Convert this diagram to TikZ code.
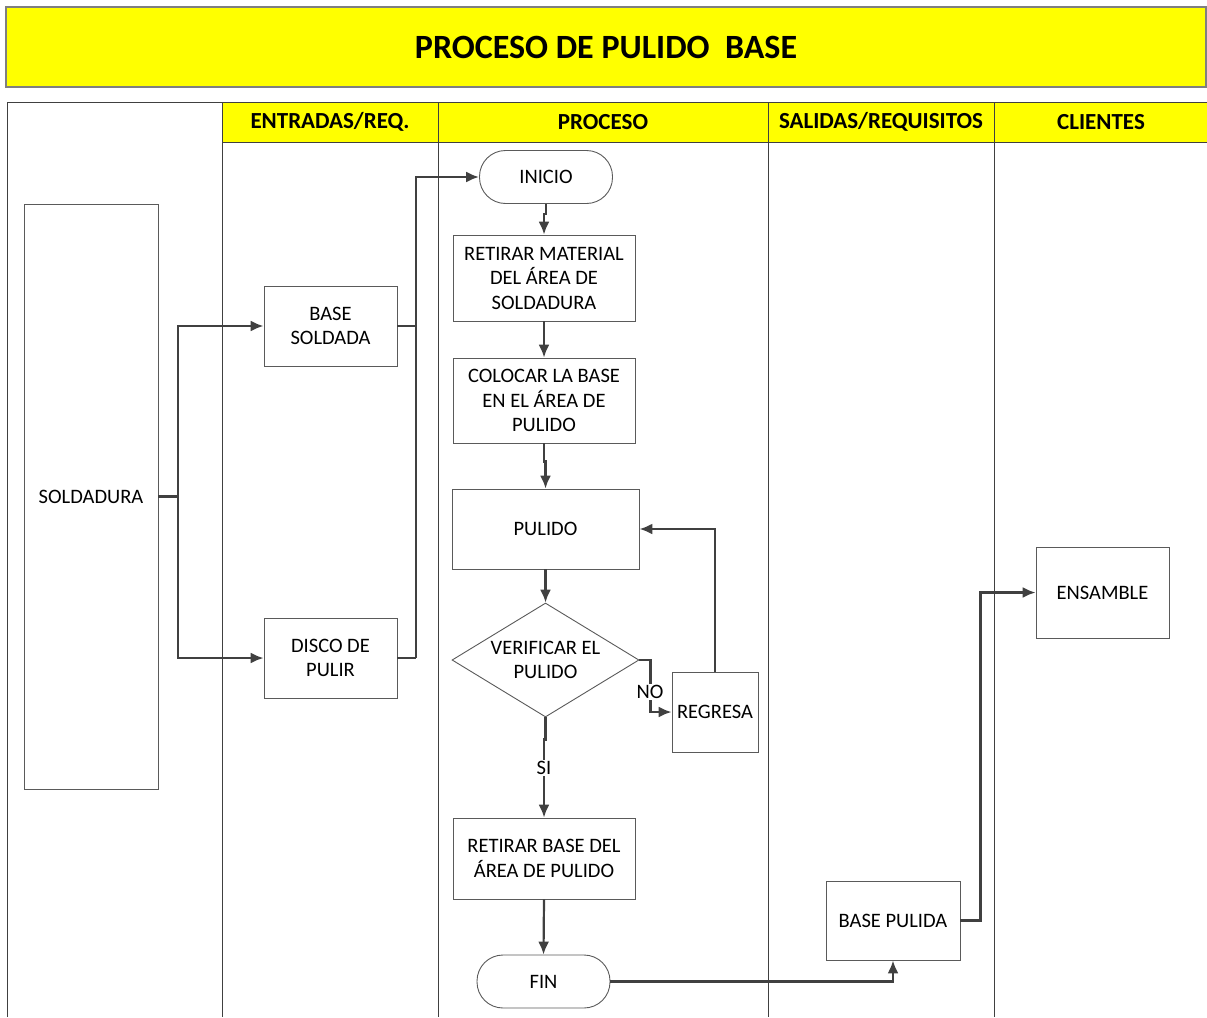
\documentclass[tikz,border=0pt]{standalone}
\usepackage{fontspec}
\setmainfont{Carlito}
\usetikzlibrary{arrows.meta,positioning,shapes.geometric}
\definecolor{laneyellow}{HTML}{FFFF00}
\definecolor{linegray}{HTML}{404040}
\definecolor{boxgray}{HTML}{5A5A5A}
\definecolor{framegray}{HTML}{7F7F7F}
\tikzset{
  flowline/.style={linegray, -{Latex[length=13pt,width=11pt]}, line width=2.2pt},
  plainline/.style={linegray, line width=2.2pt},
  lane/.style={linegray, line width=0.9pt},
  boxnode/.style={draw=boxgray, line width=0.9pt, fill=white, align=center, inner sep=3pt, font=\fontsize{20.5}{24.5}\selectfont},
  termnode/.style={boxnode, rounded corners=26pt, minimum width=133pt, minimum height=53pt},
  decisionnode/.style={boxnode, diamond, inner sep=0pt, minimum width=187pt, minimum height=114pt},
  headnode/.style={font=\fontsize{23}{26}\selectfont\bfseries},
  labelnode/.style={fill=white, inner sep=1.5pt, font=\fontsize{20.5}{22}\selectfont}
}
\begin{document}
\begin{tikzpicture}[x=1pt,y=-1pt]
  \useasboundingbox (0,0) rectangle (1207,1017);
  % title and lanes
  \draw[fill=laneyellow, draw=framegray, line width=1.1pt] (6,7) rectangle (1206,87);
  \node[font=\fontsize{34}{36}\selectfont\bfseries] (title) at (606,47) {PROCESO DE PULIDO\ \ BASE};
  \fill[laneyellow] (222,102) rectangle (1207,142);
  \draw[lane] (7,1017) -- (7,102) -- (1207,102);
  \draw[lane] (222,142) -- (1207,142);
  \foreach \x in {222,438,768,994}{\draw[lane] (\x,102) -- (\x,1017);}
  \node[headnode] (hentradas) at (330,122) {ENTRADAS/REQ.};
  \node[headnode] (hproceso) at (603,122) {PROCESO};
  \node[headnode] (hsalidas) at (881,122) {SALIDAS/REQUISITOS};
  \node[headnode] (hclientes) at (1101,122) {CLIENTES};
  % nodes
  \node[boxnode, minimum width=134pt, minimum height=585pt] (soldadura) at (91,496.5) {SOLDADURA};
  \node[boxnode, minimum width=133pt, minimum height=80pt] (basesold) at (330.5,326) {BASE\\SOLDADA};
  \node[boxnode, minimum width=133pt, minimum height=80pt] (disco) at (330.5,658) {DISCO DE\\PULIR};
  \node[termnode] (inicio) at (546,177) {INICIO};
  \node[boxnode, minimum width=182pt, minimum height=86pt] (retmat) at (544,278) {RETIRAR MATERIAL\\DEL ÁREA DE\\SOLDADURA};
  \node[boxnode, minimum width=182pt, minimum height=85pt] (colocar) at (544,400.5) {COLOCAR LA BASE\\EN EL ÁREA DE\\PULIDO};
  \node[boxnode, minimum width=187pt, minimum height=80pt] (pulido) at (545.5,529) {PULIDO};
  \node[decisionnode] (verificar) at (545.5,660) {\makebox[0pt]{VERIFICAR EL}\\\makebox[0pt]{PULIDO}};
  \node[boxnode, minimum width=86pt, minimum height=80pt] (regresa) at (715,712) {REGRESA};
  \node[boxnode, minimum width=182pt, minimum height=81pt] (retbase) at (544,858.5) {RETIRAR BASE DEL\\ÁREA DE PULIDO};
  \node[termnode] (fin) at (543.5,981.5) {FIN};
  \node[boxnode, minimum width=134pt, minimum height=79pt] (basepul) at (893,920.5) {BASE PULIDA};
  \node[boxnode, minimum width=133pt, minimum height=91pt] (ensamble) at (1102.5,592.5) {ENSAMBLE};
  % connectors
  \coordinate (splitA) at (178,496.5);
  \coordinate (joinA) at (416,658);
  \draw[flowline] (soldadura.east) -- (splitA) |- (basesold.west);
  \draw[flowline] (splitA) |- (disco.west);
  \draw[plainline] (disco.east) -- (joinA);
  \draw[plainline] (basesold.east) -| (joinA);
  \draw[flowline] (joinA) |- (inicio.west);
  \draw[flowline] (inicio.south) -- ++(0,10) -| (retmat.north);
  \draw[flowline] (retmat.south) -- (colocar.north);
  \draw[flowline] (colocar.south) -- ++(0,18) -| (pulido.north);
  \draw[flowline] (pulido.south) -- (verificar.north);
  \draw[flowline] (verificar.east) -- ++(11,0) |- (regresa.west);
  \node[labelnode] (nolabel) at (650,692) {NO};
  \draw[flowline] (regresa.north) |- (pulido.east);
  \draw[flowline] (verificar.south) -- ++(0,22) -| (retbase.north);
  \node[labelnode] (silabel) at (544,768) {SI};
  \draw[flowline] (retbase.south) -- (fin.north);
  \draw[flowline] (fin.east) -| (basepul.south);
  \draw[flowline] (basepul.east) -- ++(20,0) |- (ensamble.west);
\end{tikzpicture}
\end{document}
